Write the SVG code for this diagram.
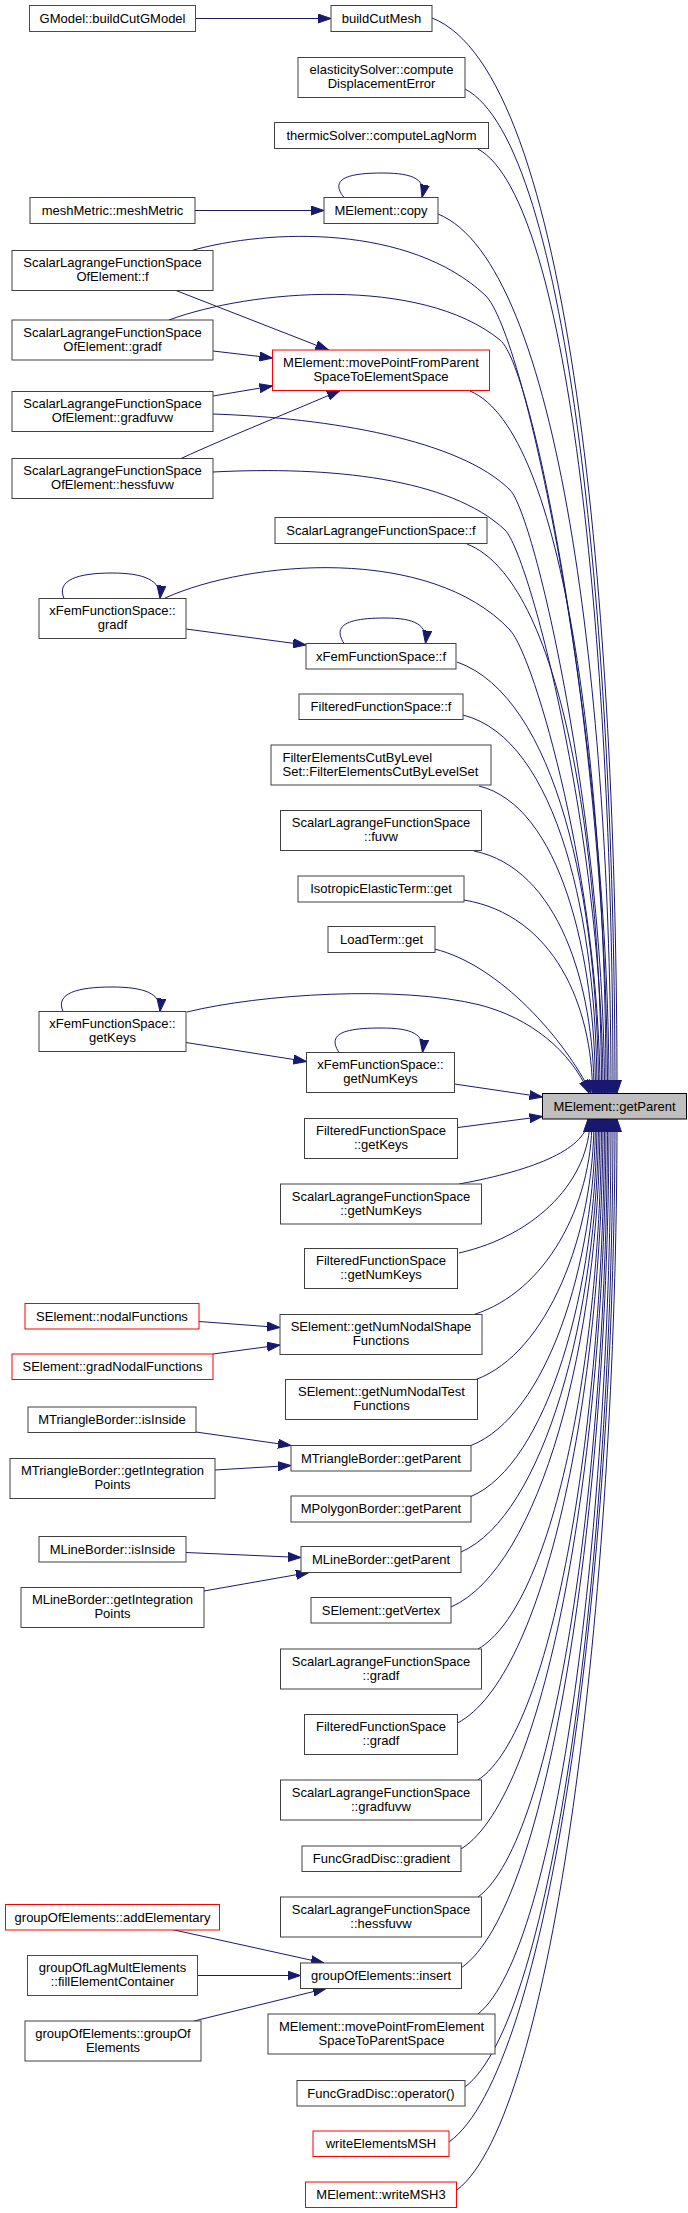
<svg xmlns="http://www.w3.org/2000/svg" width="688" height="2213" viewBox="0 0 688 2213">
<style>
.bg{fill:#ffffff}
.n rect{fill:#ffffff;stroke:#404040;stroke-width:1}
.n.r rect{stroke:#ff0000}
.n.g rect{fill:#bfbfbf;stroke:#000000}
.n text{font-family:"Liberation Sans",Arial,sans-serif;font-size:13px;fill:#000000;text-anchor:middle}
.n text.l{text-anchor:start}
.e path{fill:none;stroke:#191970;stroke-width:1;marker-end:url(#arr)}
</style>
<defs>
<marker id="arr" viewBox="0 0 13 10" refX="13" refY="5" markerWidth="13" markerHeight="10" markerUnits="userSpaceOnUse" orient="auto">
<path d="M0,0.5 L13,5 L0,9.5 z" fill="#191970" stroke="#191970" stroke-width="1"/>
</marker>
</defs>
<rect class="bg" x="0" y="0" width="688" height="2213"/>
<g id="edges" class="e">
<path d="M195.5,18.5 L331,18.5"/>
<path d="M195,210.5 L324,210.5"/>
<path d="M176,290.5 L328.5,350"/>
<path d="M213,351 L272.5,358"/>
<path d="M213,396 L272.5,386"/>
<path d="M181,458.5 C230,436 295,410 340,390.5"/>
<path d="M186,629 L306,645"/>
<path d="M186,1042.5 L306.5,1061.5"/>
<path d="M199,1321.5 L280,1327.5"/>
<path d="M213,1354 L280,1345"/>
<path d="M196,1432 L291,1445.5"/>
<path d="M215,1470 L291,1465.5"/>
<path d="M186,1552.5 L301,1557.5"/>
<path d="M204,1591 L309,1572.5"/>
<path d="M172,1929.5 L324,1963"/>
<path d="M197.5,1975.5 L300.5,1975.5"/>
<path d="M194,2021 L326,1988.5"/>
<path d="M344,197.5 C330,180 345,173 382,173 C415,173 426,180 422,197.5"/>
<path d="M64,598.5 C56,580 78,573 112,573 C143,573 162,580 160,598.5"/>
<path d="M344,643.5 C332,625 348,618 385,618 C415,618 428,625 425.5,643.5"/>
<path d="M63,1011.5 C55,993 78,987 112,987 C143,987 162,993 160,1011.5"/>
<path d="M339,1052.5 C327,1034 343,1028 381,1028 C412,1028 425,1034 422.5,1052.5"/>
<path d="M432,18 C571,72 617,609 617,1093"/>
<path d="M465,89 C570,144 615,641 615,1093"/>
<path d="M478,149 C572,201 613,668 613,1093"/>
<path d="M438,214 C559,263 611,697 611,1093"/>
<path d="M190,251 C270,228 410,225 485,295 C525,332 609,734 609,1093"/>
<path d="M169,320 C250,290 420,275 500,340 C535,368 607.5,754 607.5,1093"/>
<path d="M470,391 C565,431 606,777 606,1093"/>
<path d="M213,414 C330,418 460,440 510,490 C535,515 604.5,822 604.5,1093"/>
<path d="M213,472 C330,466 450,478 505,530 C530,555 603,840 603,1093"/>
<path d="M467,544 C561,581 601.5,846 601.5,1093"/>
<path d="M165,598 C250,560 430,545 510,630 C535,657 600,885 600,1093"/>
<path d="M457,662 C556,697 598.5,899 598.5,1093"/>
<path d="M463,715 C558,739 597,923 597,1093"/>
<path d="M479,786 C560,806 595.5,955 595.5,1093"/>
<path d="M474,851 C558,868 594,984 594,1093"/>
<path d="M464,900 C554,915 592.5,1006 592.5,1093"/>
<path d="M434.5,949 C500,965 565,1040 591,1093"/>
<path d="M187,1012 C260,994 400,985 480,1005 C530,1018 570,1050 589,1093"/>
<path d="M454.5,1084 L542.5,1097"/>
<path d="M458,1127.5 L542.5,1116.5"/>
<path d="M459,1184 C536,1170 588,1148 588,1119"/>
<path d="M459,1253 C538,1235 590,1179 590,1119"/>
<path d="M474,1314.5 C545,1292 592,1207 592,1119"/>
<path d="M476,1379.5 C547,1353 594,1236 594,1119"/>
<path d="M471,1445.5 C546,1416 595.5,1266 595.5,1119"/>
<path d="M471,1496.5 C547,1464 597,1289 597,1119"/>
<path d="M461,1552 C543.5,1516 598.5,1314 598.5,1119"/>
<path d="M451,1607 C540,1568 600,1339 600,1119"/>
<path d="M478,1649 C552,1607 601.5,1357 601.5,1119"/>
<path d="M457.5,1723 C545,1677 603,1391 603,1119"/>
<path d="M478,1780 C554,1730 604.5,1416 604.5,1119"/>
<path d="M461,1849 C548,1795 606,1447 606,1119"/>
<path d="M478,1897 C555.7,1840 607.5,1469 607.5,1119"/>
<path d="M461,1968 C550,1907 609,1501 609,1119"/>
<path d="M478,2014 C558,1950 611,1522 611,1119"/>
<path d="M465,2087 C554,2019 613,1555 613,1119"/>
<path d="M449,2142 C548.6,2070.6 615,1579 615,1119"/>
<path d="M457,2190 C553,2116 617,1601 617,1119"/>
</g>
<g id="n1" class="n r"><rect x="29.5" y="5.5" width="166" height="26"/><text x="112.5" y="22.5">GModel::buildCutGModel</text></g>
<g id="n2" class="n"><rect x="331" y="5.5" width="101" height="26"/><text x="381.5" y="22.5">buildCutMesh</text></g>
<g id="n3" class="n"><rect x="298" y="57.5" width="167" height="40"/><text x="381.5" y="74">elasticitySolver::compute</text><text x="381.5" y="88">DisplacementError</text></g>
<g id="n4" class="n"><rect x="274.5" y="122.5" width="214" height="26"/><text x="381.5" y="139.5">thermicSolver::computeLagNorm</text></g>
<g id="n5" class="n"><rect x="30" y="197.5" width="165" height="26"/><text x="112.5" y="214.5">meshMetric::meshMetric</text></g>
<g id="n6" class="n"><rect x="324" y="197.5" width="114" height="26"/><text x="381" y="214.5">MElement::copy</text></g>
<g id="n7" class="n"><rect x="12" y="250.5" width="201" height="40"/><text x="112.5" y="267">ScalarLagrangeFunctionSpace</text><text x="112.5" y="281">OfElement::f</text></g>
<g id="n8" class="n"><rect x="12" y="320" width="201" height="40"/><text x="112.5" y="336.5">ScalarLagrangeFunctionSpace</text><text x="112.5" y="350.5">OfElement::gradf</text></g>
<g id="n9" class="n r"><rect x="272.5" y="350" width="217" height="40.5"/><text x="381" y="366.5">MElement::movePointFromParent</text><text x="381" y="380.5">SpaceToElementSpace</text></g>
<g id="n10" class="n"><rect x="12" y="391.5" width="201" height="40"/><text x="112.5" y="408">ScalarLagrangeFunctionSpace</text><text x="112.5" y="422">OfElement::gradfuvw</text></g>
<g id="n11" class="n"><rect x="12" y="458.5" width="201" height="40"/><text x="112.5" y="475">ScalarLagrangeFunctionSpace</text><text x="112.5" y="489">OfElement::hessfuvw</text></g>
<g id="n12" class="n"><rect x="275" y="517.5" width="212" height="26"/><text x="381" y="534.5">ScalarLagrangeFunctionSpace::f</text></g>
<g id="n13" class="n"><rect x="39" y="598.5" width="147" height="40"/><text x="112.5" y="615">xFemFunctionSpace::</text><text x="112.5" y="629">gradf</text></g>
<g id="n14" class="n"><rect x="306" y="643.5" width="150" height="25.5"/><text x="381" y="660.5">xFemFunctionSpace::f</text></g>
<g id="n15" class="n"><rect x="299" y="694" width="164" height="25.5"/><text x="381" y="711">FilteredFunctionSpace::f</text></g>
<g id="n16" class="n"><rect x="271" y="745" width="220" height="40"/><text class="l" x="282.5" y="761.5">FilterElementsCutByLevel</text><text class="l" x="282.5" y="775.5">Set::FilterElementsCutByLevelSet</text></g>
<g id="n17" class="n"><rect x="280.5" y="810.5" width="201" height="40"/><text x="381" y="827">ScalarLagrangeFunctionSpace</text><text x="381" y="841">::fuvw</text></g>
<g id="n18" class="n"><rect x="298" y="876" width="166" height="26"/><text x="381" y="893">IsotropicElasticTerm::get</text></g>
<g id="n19" class="n"><rect x="328" y="926.5" width="107" height="26"/><text x="381.5" y="943.5">LoadTerm::get</text></g>
<g id="n20" class="n"><rect x="39" y="1011.5" width="147" height="40"/><text x="112.5" y="1028">xFemFunctionSpace::</text><text x="112.5" y="1042">getKeys</text></g>
<g id="n21" class="n"><rect x="306.5" y="1052.5" width="148" height="40"/><text x="380.5" y="1069">xFemFunctionSpace::</text><text x="380.5" y="1083">getNumKeys</text></g>
<g id="n22" class="n g"><rect x="542.5" y="1093.5" width="144" height="25.5"/><text x="614.5" y="1110.5">MElement::getParent</text></g>
<g id="n23" class="n"><rect x="304.5" y="1118.5" width="153" height="40"/><text x="381" y="1135">FilteredFunctionSpace</text><text x="381" y="1149">::getKeys</text></g>
<g id="n24" class="n"><rect x="280.5" y="1184" width="201" height="40"/><text x="381" y="1200.5">ScalarLagrangeFunctionSpace</text><text x="381" y="1214.5">::getNumKeys</text></g>
<g id="n25" class="n"><rect x="304.5" y="1248.5" width="153" height="40"/><text x="381" y="1265">FilteredFunctionSpace</text><text x="381" y="1279">::getNumKeys</text></g>
<g id="n26" class="n r"><rect x="25" y="1303.5" width="174" height="25.5"/><text x="112" y="1320.5">SElement::nodalFunctions</text></g>
<g id="n27" class="n"><rect x="280" y="1314.5" width="202" height="40"/><text x="381" y="1331">SElement::getNumNodalShape</text><text x="381" y="1345">Functions</text></g>
<g id="n28" class="n r"><rect x="12" y="1354" width="201" height="25.5"/><text x="112.5" y="1371">SElement::gradNodalFunctions</text></g>
<g id="n29" class="n"><rect x="285.5" y="1379.5" width="192" height="40"/><text x="381.5" y="1396">SElement::getNumNodalTest</text><text x="381.5" y="1410">Functions</text></g>
<g id="n30" class="n"><rect x="28" y="1407" width="168" height="25.5"/><text x="112" y="1424">MTriangleBorder::isInside</text></g>
<g id="n31" class="n"><rect x="291" y="1445.5" width="180" height="25.5"/><text x="381" y="1462.5">MTriangleBorder::getParent</text></g>
<g id="n32" class="n"><rect x="10" y="1458.5" width="205" height="40"/><text x="112.5" y="1475">MTriangleBorder::getIntegration</text><text x="112.5" y="1489">Points</text></g>
<g id="n33" class="n"><rect x="291" y="1496" width="180" height="26"/><text x="381" y="1513">MPolygonBorder::getParent</text></g>
<g id="n34" class="n"><rect x="39" y="1536.5" width="147" height="25.5"/><text x="112.5" y="1553.5">MLineBorder::isInside</text></g>
<g id="n35" class="n"><rect x="301" y="1546.5" width="160" height="26"/><text x="381" y="1563.5">MLineBorder::getParent</text></g>
<g id="n36" class="n"><rect x="21" y="1587.5" width="183" height="40"/><text x="112.5" y="1604">MLineBorder::getIntegration</text><text x="112.5" y="1618">Points</text></g>
<g id="n37" class="n"><rect x="311" y="1597.5" width="140" height="25.5"/><text x="381" y="1614.5">SElement::getVertex</text></g>
<g id="n38" class="n"><rect x="280.5" y="1649" width="201" height="40"/><text x="381" y="1665.5">ScalarLagrangeFunctionSpace</text><text x="381" y="1679.5">::gradf</text></g>
<g id="n39" class="n"><rect x="304.5" y="1714.5" width="153" height="40"/><text x="381" y="1731">FilteredFunctionSpace</text><text x="381" y="1745">::gradf</text></g>
<g id="n40" class="n"><rect x="280.5" y="1780" width="201" height="40"/><text x="381" y="1796.5">ScalarLagrangeFunctionSpace</text><text x="381" y="1810.5">::gradfuvw</text></g>
<g id="n41" class="n"><rect x="302" y="1846" width="159" height="25.5"/><text x="381.5" y="1863">FuncGradDisc::gradient</text></g>
<g id="n42" class="n"><rect x="280.5" y="1897" width="201" height="40"/><text x="381" y="1913.5">ScalarLagrangeFunctionSpace</text><text x="381" y="1927.5">::hessfuvw</text></g>
<g id="n43" class="n r"><rect x="5.5" y="1904.5" width="214" height="25.5"/><text x="112.5" y="1921.5">groupOfElements::addElementary</text></g>
<g id="n44" class="n r"><rect x="27.5" y="1955.5" width="170" height="40"/><text x="112.5" y="1972">groupOfLagMultElements</text><text x="112.5" y="1986">::fillElementContainer</text></g>
<g id="n45" class="n"><rect x="300.5" y="1963" width="161" height="25.5"/><text x="381" y="1980">groupOfElements::insert</text></g>
<g id="n46" class="n"><rect x="25" y="2021" width="176" height="40"/><text x="113" y="2037.5">groupOfElements::groupOf</text><text x="113" y="2051.5">Elements</text></g>
<g id="n47" class="n"><rect x="268" y="2014" width="227" height="40"/><text x="381.5" y="2030.5">MElement::movePointFromElement</text><text x="381.5" y="2044.5">SpaceToParentSpace</text></g>
<g id="n48" class="n"><rect x="297" y="2080.5" width="168" height="25.5"/><text x="381" y="2097.5">FuncGradDisc::operator()</text></g>
<g id="n49" class="n r"><rect x="313" y="2131" width="136" height="25.5"/><text x="381" y="2148">writeElementsMSH</text></g>
<g id="n50" class="n r"><rect x="305.5" y="2182" width="151" height="25.5"/><text x="381" y="2199">MElement::writeMSH3</text></g>
</svg>
